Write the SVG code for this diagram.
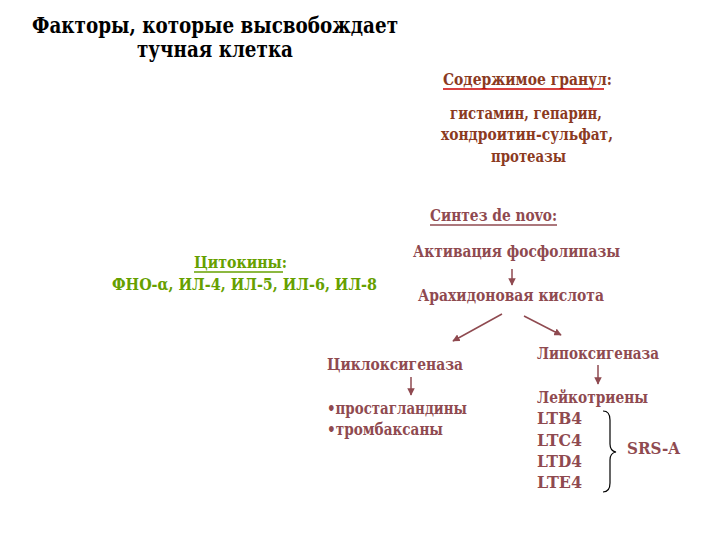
<svg xmlns="http://www.w3.org/2000/svg" width="720" height="540" viewBox="0 0 720 540">
<defs>
<style>
text{font-weight:bold}
.title{font-size:22px;fill:#000}
.gran{font-size:16px;fill:#8B3A1F}
.cyt{font-size:16px;fill:#66A000}
.syn{font-size:16px;fill:#8F4A50}
.ul{stroke-width:1.5}
.arr{stroke:#8F4A50;stroke-width:1.5;fill:none;marker-end:url(#ah)}
</style>
<marker id="ah" viewBox="0 0 10 10" refX="9" refY="5" markerWidth="5" markerHeight="5" orient="auto">
<path d="M0,0 L10,5 L0,10 z" fill="#8F4A50"/>
</marker>
</defs>
<rect width="720" height="540" fill="#fff"/>
<g font-family="'DejaVu Serif', 'Liberation Serif', 'Times New Roman', serif">
<g id="title">
<text class="title" x="32" y="33" textLength="366" lengthAdjust="spacingAndGlyphs">Факторы, которые высвобождает</text>
<text class="title" x="137" y="57" textLength="156" lengthAdjust="spacingAndGlyphs">тучная клетка</text>
</g>
<g id="granules">
<text class="gran" x="443" y="85" textLength="169" lengthAdjust="spacingAndGlyphs">Содержимое гранул:</text>
<line x1="443" y1="89" x2="604" y2="89" stroke="#CC0000" class="ul"/>
<text class="gran" x="450" y="119" textLength="152" lengthAdjust="spacingAndGlyphs">гистамин, гепарин,</text>
<text class="gran" x="441" y="140" textLength="172" lengthAdjust="spacingAndGlyphs">хондроитин-сульфат,</text>
<text class="gran" x="491" y="162" textLength="75" lengthAdjust="spacingAndGlyphs">протеазы</text>
</g>
<g id="denovo">
<text class="syn" x="430" y="221" textLength="127" lengthAdjust="spacingAndGlyphs">Синтез de novo:</text>
<line x1="430" y1="225" x2="557" y2="225" stroke="#8F4A50" class="ul"/>
</g>
<g id="cytokines">
<text class="cyt" x="194" y="268" textLength="93" lengthAdjust="spacingAndGlyphs">Цитокины:</text>
<line x1="194" y1="272" x2="283" y2="272" stroke="#66A000" class="ul"/>
<text class="cyt" x="112" y="290" textLength="265" lengthAdjust="spacingAndGlyphs">ФНО-α, ИЛ-4, ИЛ-5, ИЛ-6, ИЛ-8</text>
</g>
<g id="phospholipase">
<text class="syn" x="413" y="257" textLength="207" lengthAdjust="spacingAndGlyphs">Активация фосфолипазы</text>
</g>
<g id="arachidonic">
<text class="syn" x="418" y="301" textLength="186" lengthAdjust="spacingAndGlyphs">Арахидоновая кислота</text>
</g>
<g id="cyclooxygenase">
<text class="syn" x="327" y="370" textLength="136" lengthAdjust="spacingAndGlyphs">Циклоксигеназа</text>
</g>
<g id="prostaglandins">
<text class="syn" x="327" y="414" textLength="140" lengthAdjust="spacingAndGlyphs">•простагландины</text>
<text class="syn" x="327" y="435" textLength="116" lengthAdjust="spacingAndGlyphs">•тромбаксаны</text>
</g>
<g id="lipoxygenase">
<text class="syn" x="537" y="359" textLength="122" lengthAdjust="spacingAndGlyphs">Липоксигеназа</text>
</g>
<g id="leukotrienes">
<text class="syn" x="537" y="403" textLength="111" lengthAdjust="spacingAndGlyphs">Лейкотриены</text>
<text class="syn" x="537" y="424" textLength="45" lengthAdjust="spacingAndGlyphs">LTB4</text>
<text class="syn" x="537" y="446" textLength="45" lengthAdjust="spacingAndGlyphs">LTC4</text>
<text class="syn" x="537" y="467" textLength="45" lengthAdjust="spacingAndGlyphs">LTD4</text>
<text class="syn" x="537" y="488" textLength="45" lengthAdjust="spacingAndGlyphs">LTE4</text>
</g>
<g id="srsa">
<text class="syn" x="627" y="454" textLength="53" lengthAdjust="spacingAndGlyphs">SRS-A</text>
</g>
</g>
<g id="connectors">
<line class="arr" x1="512" y1="269" x2="512" y2="285"/>
<line class="arr" x1="502" y1="314" x2="453" y2="341"/>
<line class="arr" x1="524" y1="316" x2="561" y2="335"/>
<line class="arr" x1="411" y1="377" x2="411" y2="395"/>
<line class="arr" x1="598" y1="365" x2="598" y2="384"/>
<path d="M603,411 Q610,411 610,420 L610,444 Q610,451 616,452 Q610,453 610,460 L610,483 Q610,492 603,492" fill="none" stroke="#000" stroke-width="1.2"/>
</g>
</svg>
